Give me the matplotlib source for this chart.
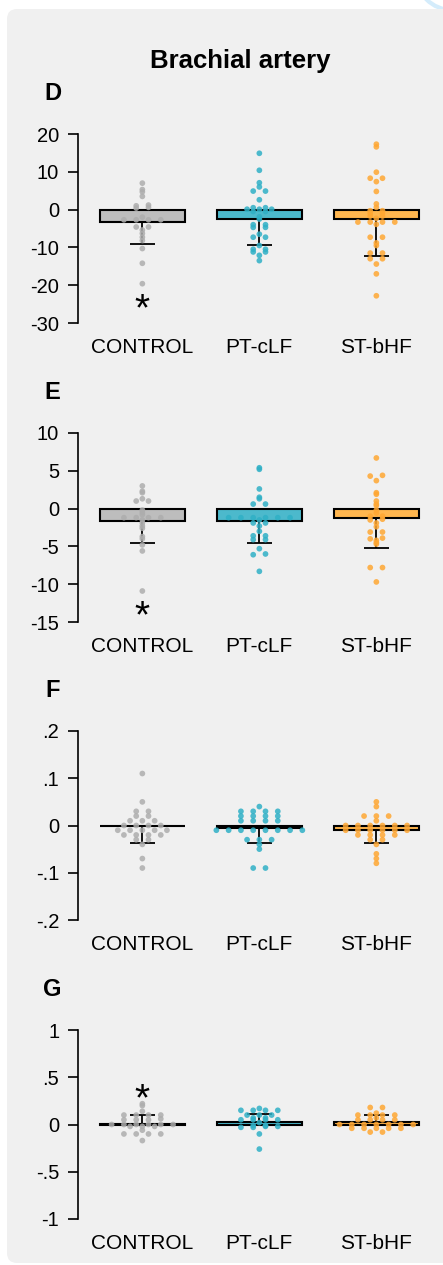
import numpy as np
import matplotlib.pyplot as plt
from matplotlib.patches import FancyBboxPatch, Circle
from matplotlib.transforms import IdentityTransform

plt.rcParams['font.family'] = ['Liberation Sans', 'DejaVu Sans']
plt.rcParams['axes.unicode_minus'] = False

groups = ['CONTROL', 'PT-cLF', 'ST-bHF']
bar_colors = ['#bdbdbd', '#4cb9cc', '#ffb64f']
dot_colors = ['#adadad', '#2fb0c6', '#ffa733']

# Panel D
d_means = [-3.4, -2.4, -2.6]
d_sd = [5.6, 6.9, 9.6]
d_control = [7.0, 5.3, 4.7, 3.5, 1.2, 1.0, 0.4, 0.6, -2.0, -2.7, -2.7, -2.7, -2.7,
             -4.6, -4.6, -5.4, -6.3, -7.3, -8.2, -10.3, -14.2, -19.6]
d_ptclf = [14.9, 10.4, 7.1, 6.0, 4.9, 4.9, 2.6, 0.5, 0.5, 0.1, 0.1, 0.1, -0.5, -0.5,
           -1.9, -2.5, -4.0, -4.0, -4.7, -4.7, -6.5, -7.3, -7.3, -9.5, -10.5, -10.5,
           -11.2, -11.2, -12.1, -13.5]
d_stbhf = [17.3, 16.6, 9.9, 8.3, 8.3, 7.4, 4.8, 1.5, 0.6, -0.3, -0.3, -1.0, -1.0, -1.7,
           -1.7, -2.3, -3.3, -3.3, -3.3, -3.3, -3.9, -7.3, -7.3, -8.8, -9.5, -11.5,
           -11.5, -13.0, -13.0, -14.4, -17.0, -22.8]

# Panel E
e_means = [-1.7, -1.6, -1.3]
e_sd = [2.8, 3.0, 3.9]
e_control = [3.0, 2.3, 2.1, 1.3, 1.0, 1.0, -0.2, -0.5, -0.8, -1.2, -1.2, -1.2, -1.2,
             -1.5, -1.9, -2.3, -2.6, -3.7, -4.0, -4.8, -5.6, -10.9]
e_ptclf = [5.4, 5.2, 2.6, 1.5, 1.3, 0.6, 0.6, -1.2, -1.2, -1.2, -1.2, -1.2, -1.2, -1.5,
           -1.9, -1.9, -2.3, -3.0, -3.6, -3.6, -4.1, -4.1, -5.3, -6.0, -6.1, -8.3]
e_stbhf = [6.7, 4.4, 4.3, 3.7, 2.1, 1.9, 1.0, 0.6, 0.4, -0.2, -0.6, -1.0, -1.0, -1.4,
           -1.5, -1.9, -2.4, -3.1, -3.1, -3.9, -4.0, -4.2, -4.5, -4.7, -7.8, -7.8, -9.7]

# Panel F
f_means = [-0.002, -0.0055, -0.009]
f_sd = [0.036, 0.0325, 0.029]
f_control = [0.11, 0.05, 0.03, 0.03, 0.02, 0.02, 0.01, 0.01, 0.01, 0.0, 0.0, 0.0, 0.0,
             -0.01, -0.01, -0.01, -0.01, -0.01, -0.02, -0.02, -0.02, -0.02, -0.03,
             -0.03, -0.04, -0.07, -0.09]
f_ptclf = [0.04, 0.03, 0.03, 0.03, 0.03, 0.02, 0.02, 0.02, 0.02, 0.01, 0.01, 0.01, 0.01,
           -0.01, -0.01, -0.01, -0.01, -0.01, -0.01, -0.01, -0.01, -0.03, -0.03, -0.03,
           -0.04, -0.05, -0.09, -0.09]
f_stbhf = [0.05, 0.04, 0.02, 0.02, 0.02, 0.01, 0.0, 0.0, 0.0, 0.0, 0.0, 0.0,
           -0.01, -0.01, -0.01, -0.01, -0.01, -0.01, -0.02, -0.02, -0.02, -0.02,
           -0.03, -0.03, -0.04, -0.06, -0.07, -0.08]

# Panel G
g_means = [0.01, 0.025, 0.028]
g_sd = [0.09, 0.085, 0.075]
g_control = [0.22, 0.2, 0.14, 0.1, 0.1, 0.1, 0.1, 0.06, 0.05, 0.05, 0.05, 0.0, 0.0, 0.0,
             0.0, 0.0, 0.0, -0.02, -0.02, -0.02, -0.06, -0.1, -0.1, -0.1, -0.1, -0.17]
g_ptclf = [0.17, 0.15, 0.15, 0.15, 0.15, 0.1, 0.1, 0.1, 0.07, 0.07, 0.05, 0.05, 0.05,
           0.05, 0.02, -0.01, -0.01, -0.02, -0.02, -0.03, -0.03, -0.1, -0.26]
g_stbhf = [0.18, 0.18, 0.12, 0.1, 0.1, 0.1, 0.1, 0.07, 0.05, 0.05, 0.05, 0.05, 0.0, 0.0,
           0.0, 0.0, 0.0, 0.0, 0.0, -0.04, -0.04, -0.04, -0.04, -0.04, -0.08, -0.08]

panels = [
    ('D', d_means, d_sd, [d_control, d_ptclf, d_stbhf],
     [20, 10, 0, -10, -20, -30], ['20', '10', '0', '-10', '-20', '-30'], -26.7),
    ('E', e_means, e_sd, [e_control, e_ptclf, e_stbhf],
     [10, 5, 0, -5, -10, -15], ['10', '5', '0', '-5', '-10', '-15'], -14.4),
    ('F', f_means, f_sd, [f_control, f_ptclf, f_stbhf],
     [0.2, 0.1, 0, -0.1, -0.2], ['.2', '.1', '0', '-.1', '-.2'], None),
    ('G', g_means, g_sd, [g_control, g_ptclf, g_stbhf],
     [1, 0.5, 0, -0.5, -1], ['1', '.5', '0', '-.5', '-1'], 0.26),
]

W, H = 443, 1265
fig = plt.figure(figsize=(W / 100, H / 100), dpi=100)
fig.patch.set_facecolor('white')

# background card
fig.patches.append(Circle((452, H + 26), 36, transform=IdentityTransform(),
                          facecolor='white', edgecolor='#d4ecfb', linewidth=3, zorder=-2))
fig.patches.append(FancyBboxPatch((7, 2), 480, H - 11, boxstyle='round,pad=0,rounding_size=10',
                                  transform=IdentityTransform(), facecolor='#f0f0f0',
                                  edgecolor='none', zorder=-1))

fig.text(240.5 / W, 1 - 61 / H, 'Brachial artery', ha='center', va='center',
         fontsize=18.5, fontweight='bold')


def swarm_offsets(ax, vals, spacing, gap_px=1.2):
    ypix = ax.transData.transform(np.column_stack([np.zeros(len(vals)), vals]))[:, 1]
    order = np.argsort(ypix)
    offsets = np.zeros(len(vals))
    rows = []
    row = [order[0]]
    for i in order[1:]:
        if ypix[i] - ypix[row[0]] < gap_px:
            row.append(i)
        else:
            rows.append(row)
            row = [i]
    rows.append(row)
    for r in rows:
        n = len(r)
        for k, i in enumerate(r):
            offsets[i] = (k - (n - 1) / 2) * spacing
    return offsets


axes_tops = [134, 433, 731, 1030]
ax_h = 189
left_px, right_px = 78, 440
x = np.arange(1, 4)

for (letter, means, sds, dots, ticks, ticklabels, star_y), top in zip(panels, axes_tops):
    ax = fig.add_axes([left_px / W, 1 - (top + ax_h) / H, (right_px - left_px) / W, ax_h / H])
    ax.set_zorder(1)
    ax.set_facecolor('none')
    ax.set_xlim(0.45, 3.544)
    ax.set_ylim(ticks[-1], ticks[0])

    ax.bar(x, means, width=0.73, color=bar_colors, edgecolor='black', linewidth=1.5, zorder=2)
    for i in range(3):
        m, s = means[i], sds[i]
        lo, hi = (s, 0) if m < 0 else (0, s)
        ax.errorbar(x[i], m, yerr=[[lo], [hi]], color='black', lw=1.3,
                    capsize=9, capthick=1.3, zorder=3)
        vals = np.array(dots[i], dtype=float)
        offs = swarm_offsets(ax, vals, 0.105)
        ax.scatter(x[i] + offs, vals, s=17, color=dot_colors[i], alpha=0.85,
                   edgecolors='none', zorder=4)

    if star_y is not None:
        ax.text(1, star_y, '*', ha='center', va='center', fontsize=28, zorder=5)

    for side in ['top', 'right', 'bottom']:
        ax.spines[side].set_visible(False)
    ax.spines['left'].set_linewidth(1.2)
    ax.set_yticks(ticks)
    ax.set_yticklabels(ticklabels)
    ax.set_xticks(x)
    ax.set_xticklabels(groups)
    ax.tick_params(axis='y', length=7.5, width=1.2, pad=6, labelsize=14.5)
    ax.tick_params(axis='x', length=0, pad=11, labelsize=15)

    fig.text(52.5 / W, 1 - (top - 40.5) / H, letter, ha='center', va='center',
             fontsize=17, fontweight='bold')

fig.savefig('out.png', dpi=100)
